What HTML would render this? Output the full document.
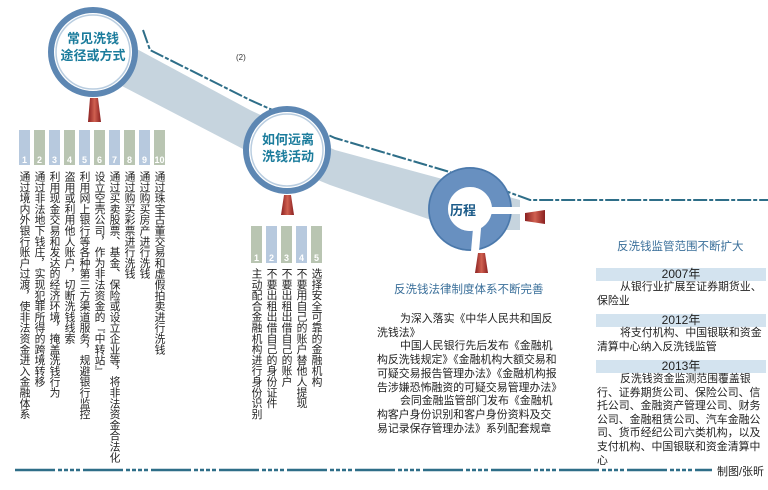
<!DOCTYPE html>
<html><head><meta charset="utf-8"><style>
body{margin:0;width:768px;height:490px;background:#fff;position:relative;overflow:hidden;font-family:"Liberation Sans","Noto Sans CJK SC",sans-serif;}
.v{position:absolute;writing-mode:vertical-rl;font-size:10.8px;line-height:12px;color:#222;white-space:nowrap;}
.t{position:absolute;font-size:12px;color:#222;white-space:nowrap;}
.yr{position:absolute;left:596px;width:170px;height:13px;background:#d3e3ef;text-align:center;font-size:12px;line-height:13px;color:#222;}
.p{position:absolute;font-size:10.9px;line-height:13.7px;color:#222;}
.p div{text-indent:23px}
</style></head><body>
<svg width="768" height="490" style="position:absolute;left:0;top:0">
<defs>
<linearGradient id="pin" x1="0" x2="1"><stop offset="0" stop-color="#8a2020"/><stop offset=".5" stop-color="#d06050"/><stop offset="1" stop-color="#8a2020"/></linearGradient>
</defs>
<polygon points="120,40 250,110 335,150 520,200 520,230 460,230 330,185 245,150 120,85" fill="#c6d4de"/>
<polyline points="143,30 150,50 250,100 335,138 470,178 530,200 768,200" fill="none" stroke="#2e6e88" stroke-width="2" stroke-dasharray="14,2,4,2"/>
<circle cx="93" cy="52" r="42" fill="#fff" stroke="#5d87b3" stroke-width="6"/>
<circle cx="93" cy="52" r="37" fill="none" stroke="#b9cde0" stroke-width="1.5"/>
<path d="M90,98 L98,98 L101,122 L88,122 Z" fill="url(#pin)"/>
<circle cx="287" cy="150" r="41" fill="#fff" stroke="#5d87b3" stroke-width="6"/>
<circle cx="287" cy="150" r="36" fill="none" stroke="#b9cde0" stroke-width="1.5"/>
<path d="M284,195 L291,195 L294,215 L281,215 Z" fill="url(#pin)"/>
<circle cx="470" cy="209" r="32" fill="none" stroke="#6890c0" stroke-width="20"/>
<circle cx="470" cy="209" r="41" fill="none" stroke="#4a78aa" stroke-width="1.5"/>
<rect x="490" y="207" width="40" height="7" fill="#fff"/>
<rect x="472" y="225" width="8" height="30" fill="#fff" transform="rotate(5 476 240)"/>
<circle cx="470" cy="209" r="22" fill="#fff"/>
<path d="M525,213 L545,210 L545,224 L525,221 Z" fill="url(#pin)"/>
<path d="M478,253 L485,253 L488,273 L475,273 Z" fill="url(#pin)"/>
<g>
<rect x="19" y="130" width="11" height="35" fill="#b7c9de"/><rect x="34" y="130" width="11" height="35" fill="#b9c5b2"/>
<rect x="49" y="130" width="11" height="35" fill="#b7c9de"/><rect x="64" y="130" width="11" height="35" fill="#b9c5b2"/>
<rect x="79" y="130" width="11" height="35" fill="#b7c9de"/><rect x="94" y="130" width="11" height="35" fill="#b9c5b2"/>
<rect x="109" y="130" width="11" height="35" fill="#b7c9de"/><rect x="124" y="130" width="11" height="35" fill="#b9c5b2"/>
<rect x="139" y="130" width="11" height="35" fill="#b7c9de"/><rect x="154" y="130" width="11" height="35" fill="#b9c5b2"/>
</g>
<g font-size="9" fill="#fff" font-weight="bold" text-anchor="middle" font-family="Liberation Sans">
<text x="24.5" y="163">1</text><text x="39.5" y="163">2</text><text x="54.5" y="163">3</text><text x="69.5" y="163">4</text><text x="84.5" y="163">5</text><text x="99.5" y="163">6</text><text x="114.5" y="163">7</text><text x="129.5" y="163">8</text><text x="144.5" y="163">9</text><text x="159.5" y="163">10</text>
</g>
<rect x="251" y="226" width="11" height="37" fill="#b9c5b2"/><rect x="266" y="226" width="11" height="37" fill="#b7c9de"/>
<rect x="281" y="226" width="11" height="37" fill="#b9c5b2"/><rect x="296" y="226" width="11" height="37" fill="#b7c9de"/>
<rect x="311" y="226" width="11" height="37" fill="#b9c5b2"/>
<g font-size="9" fill="#fff" font-weight="bold" text-anchor="middle" font-family="Liberation Sans">
<text x="256.5" y="261">1</text><text x="271.5" y="261">2</text><text x="286.5" y="261">3</text><text x="301.5" y="261">4</text><text x="316.5" y="261">5</text>
</g>
<line x1="15" y1="470" x2="712" y2="470" stroke="#2e6e88" stroke-width="2.5" stroke-dasharray="40,3,4,2,4,2,4,2,4,3"/>
</svg>
<div style="position:absolute;left:51px;top:30px;width:84px;text-align:center;font-size:13px;font-weight:bold;color:#1b7c9c;line-height:17px">常见洗钱<br>途径或方式</div>
<div style="position:absolute;left:246px;top:131px;width:84px;text-align:center;font-size:13px;font-weight:bold;color:#1b7c9c;line-height:17px">如何远离<br>洗钱活动</div>
<div style="position:absolute;left:450px;top:200px;font-size:13px;font-weight:bold;color:#1a5a88">历程</div>
<div style="position:absolute;left:236px;top:53px;font-size:8px;color:#333">(2)</div>
<div class="v" style="left:18px;top:171px">通过境内外银行账户过渡，使非法资金进入金融体系</div>
<div class="v" style="left:33px;top:171px">通过非法地下钱庄，实现犯罪所得的跨境转移</div>
<div class="v" style="left:48px;top:171px">利用现金交易和发达的经济环境，掩盖洗钱行为</div>
<div class="v" style="left:63px;top:171px">盗用或利用他人账户，切断洗钱线索</div>
<div class="v" style="left:78px;top:171px">利用网上银行等各种第三方渠道服务，规避银行监控</div>
<div class="v" style="left:93px;top:171px">设立空壳公司，作为非法资金的『中转站』</div>
<div class="v" style="left:108px;top:171px">通过买卖股票、基金、保险或设立企业等，将非法资金合法化</div>
<div class="v" style="left:123px;top:171px">通过购买彩票进行洗钱</div>
<div class="v" style="left:138px;top:171px">通过购买房产进行洗钱</div>
<div class="v" style="left:153px;top:171px">通过珠宝古董交易和虚假拍卖进行洗钱</div>
<div class="v" style="left:250px;top:268px">主动配合金融机构进行身份识别</div>
<div class="v" style="left:265px;top:268px">不要出租出借自己的身份证件</div>
<div class="v" style="left:280px;top:268px">不要出租出借自己的账户</div>
<div class="v" style="left:295px;top:268px">不要用自己的账户替他人提现</div>
<div class="v" style="left:310px;top:268px">选择安全可靠的金融机构</div>
<div class="t" style="left:394px;top:281px;color:#3a6f9a;font-size:11.5px">反洗钱法律制度体系不断完善</div>
<div class="p" style="left:377px;top:313px;width:182px">
<div>为深入落实《中华人民共和国反洗钱法》</div>
<div>中国人民银行先后发布《金融机构反洗钱规定》《金融机构大额交易和可疑交易报告管理办法》《金融机构报告涉嫌恐怖融资的可疑交易管理办法》</div>
<div>会同金融监管部门发布《金融机构客户身份识别和客户身份资料及交易记录保存管理办法》系列配套规章</div>
</div>
<div class="t" style="left:617px;top:238px;color:#3a6f9a;font-size:11.5px">反洗钱监管范围不断扩大</div>
<div class="yr" style="top:268px">2007年</div>
<div class="p" style="left:597px;top:281px;width:171px"><div>从银行业扩展至证券期货业、保险业</div></div>
<div class="yr" style="top:314px">2012年</div>
<div class="p" style="left:597px;top:327px;width:171px"><div>将支付机构、中国银联和资金清算中心纳入反洗钱监管</div></div>
<div class="yr" style="top:360px">2013年</div>
<div class="p" style="left:597px;top:373px;width:171px;line-height:13.6px"><div>反洗钱资金监测范围覆盖银行、证券期货公司、保险公司、信托公司、金融资产管理公司、财务公司、金融租赁公司、汽车金融公司、货币经纪公司六类机构，以及支付机构、中国银联和资金清算中心</div></div>
<div class="t" style="left:717px;top:463px;font-size:11px">制图/张昕</div>
</body></html>
